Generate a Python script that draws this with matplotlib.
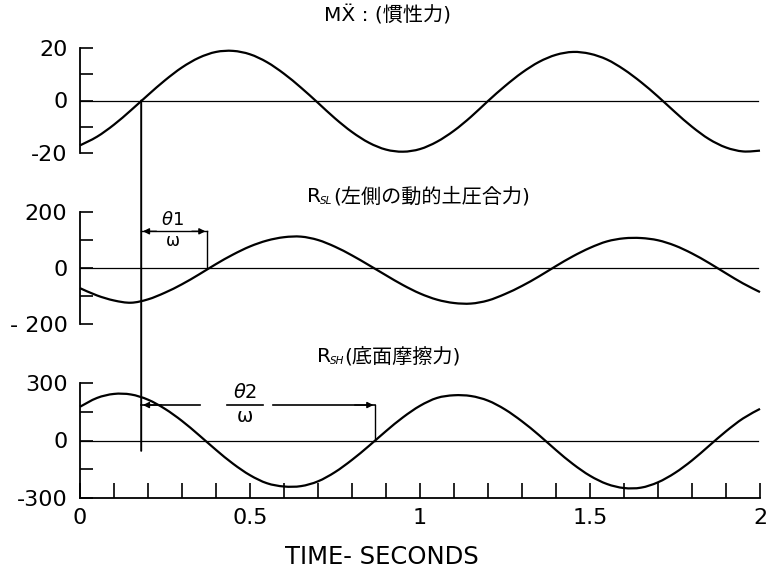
import matplotlib
matplotlib.use("Agg")
import matplotlib.pyplot as plt
from matplotlib.patches import ConnectionPatch, PathPatch
from matplotlib.path import Path
from matplotlib.ticker import MultipleLocator

plt.rcParams['font.family'] = ['DejaVu Sans', 'Noto Sans CJK JP']

# sample times (s)
time_s = [0.00, 0.05, 0.10, 0.15, 0.20, 0.25, 0.30, 0.35, 0.40, 0.45,
          0.50, 0.55, 0.60, 0.65, 0.70, 0.75, 0.80, 0.85, 0.90, 0.95,
          1.00, 1.05, 1.10, 1.15, 1.20, 1.25, 1.30, 1.35, 1.40, 1.45,
          1.50, 1.55, 1.60, 1.65, 1.70, 1.75, 1.80, 1.85, 1.90, 1.95, 2.00]

# inertia force M*x''
inertia = [-17.1, -13.8, -9.2, -3.7, 2.1, 7.7, 12.6, 16.3, 18.5, 18.9,
           17.6, 14.6, 10.2, 4.9, -0.9, -6.8, -12.0, -16.1, -18.7, -19.5,
           -18.5, -15.7, -11.5, -6.2, -0.2, 5.5, 10.6, 14.7, 17.4, 18.5,
           17.8, 15.6, 11.8, 7.0, 1.5, -4.4, -10.0, -14.7, -17.9, -19.4, -19.1]

# resultant dynamic earth pressure on the left side R_SL
r_sl = [-72, -98, -116, -124, -112, -88, -58, -23, 14, 48,
        77, 98, 110, 112, 100, 76, 45, 10, -26, -61,
        -91, -113, -125, -127, -116, -93, -64, -30, 7, 42,
        72, 95, 106, 107, 99, 80, 52, 18, -19, -55, -86]

# base friction force R_SH
r_sh = [176, 222, 243, 240, 213, 165, 102, 28, -49, -121,
        -181, -223, -240, -238, -213, -165, -101, -28, 49, 121,
        181, 222, 236, 232, 208, 162, 100, 28, -50, -123,
        -184, -227, -248, -246, -218, -169, -104, -28, 48, 115, 165]

y_limits = [20, 200, 300]
y_tick_labels = [["-20", "0", "20"], ["- 200", "0", "200"], ["-300", "0", "300"]]
x_ticks = [0, 0.5, 1, 1.5, 2]
x_tick_labels = ["0", "0.5", "1", "1.5", "2"]

# phase-lag markers (s) and heights of their dimension lines
t_ref = 0.18
t_theta1 = 0.374
t_theta2 = 0.868
h_theta1 = 131
h_theta2 = 185
ref_bottom = -54

W, H = 768, 575
fig = plt.figure(figsize=(W / 100, H / 100), dpi=100)


def frac_box(top_px, bot_px):
    left = 80 / W
    width = (760 - 80) / W
    return [left, 1 - bot_px / H, width, (bot_px - top_px) / H]


def smooth_curve(ax, xs, ys, **kw):
    """Draw a Catmull-Rom style cubic curve through the sampled points."""
    n = len(xs)
    pts = list(zip(xs, ys))
    verts = [pts[0]]
    codes = [Path.MOVETO]
    for i in range(n - 1):
        p0 = pts[max(i - 1, 0)]
        p1 = pts[i]
        p2 = pts[i + 1]
        p3 = pts[min(i + 2, n - 1)]
        c1 = (p1[0] + (p2[0] - p0[0]) / 6, p1[1] + (p2[1] - p0[1]) / 6)
        c2 = (p2[0] - (p3[0] - p1[0]) / 6, p2[1] - (p3[1] - p1[1]) / 6)
        verts += [c1, c2, p2]
        codes += [Path.CURVE4] * 3
    patch = PathPatch(Path(verts, codes), fill=False, transform=ax.transData,
                      clip_on=False, **kw)
    ax.add_patch(patch)


ax1 = fig.add_axes(frac_box(48, 153))
ax2 = fig.add_axes(frac_box(212, 324))
ax3 = fig.add_axes(frac_box(383, 498))
axes = [ax1, ax2, ax3]

series = [inertia, r_sl, r_sh]
for ax, vals, lim, labels in zip(axes, series, y_limits, y_tick_labels):
    ax.set_xlim(0, 2)
    ax.set_ylim(-lim, lim)
    smooth_curve(ax, time_s, vals, edgecolor='black', lw=1.6, zorder=3)
    ax.axhline(0, xmin=0, xmax=0.997, color='black', lw=0.9, zorder=2)
    for s in ['top', 'right', 'bottom']:
        ax.spines[s].set_visible(False)
    ax.spines['left'].set_linewidth(1.3)
    ax.set_yticks([-lim, 0, lim])
    ax.set_yticklabels(labels)
    ax.yaxis.set_minor_locator(MultipleLocator(lim / 2))
    ax.tick_params(axis='y', which='both', direction='in', length=9,
                   width=1.2, labelsize=16, pad=9)
    ax.patch.set_visible(False)

for ax in [ax1, ax2]:
    ax.set_xticks([])
    ax.tick_params(axis='x', which='both', length=0)

ax3.spines['bottom'].set_visible(True)
ax3.spines['bottom'].set_linewidth(1.3)
ax3.set_xticks(x_ticks)
ax3.set_xticklabels(x_tick_labels)
ax3.xaxis.set_minor_locator(MultipleLocator(0.1))
ax3.tick_params(axis='x', which='both', direction='in', length=11,
                width=1.2, labelsize=16, pad=7)

# reference line through the zero crossing of the inertia force
con = ConnectionPatch(xyA=(t_ref, 0), coordsA=ax1.transData,
                      xyB=(t_ref, ref_bottom), coordsB=ax3.transData,
                      color='black', lw=1.4, zorder=4)
fig.add_artist(con)

arr = dict(arrowstyle='-|>', color='black', lw=1.0, mutation_scale=9,
           shrinkA=0, shrinkB=0)

# theta1 / omega dimension
ax2.plot([t_theta1, t_theta1], [0, h_theta1], color='black', lw=1.0)
ax2.plot([t_ref, t_theta1], [h_theta1, h_theta1], color='black', lw=1.0)
ax2.annotate('', xy=(t_ref + 0.005, h_theta1), xytext=(t_ref + 0.045, h_theta1),
             arrowprops=arr)
ax2.annotate('', xy=(t_theta1 - 0.005, h_theta1), xytext=(t_theta1 - 0.045, h_theta1),
             arrowprops=arr)
ax2.annotate(r'$\theta$1', xy=(0.272, h_theta1), xytext=(0, 8),
             textcoords='offset points', ha='center', va='center', fontsize=13)
ax2.annotate('ω', xy=(0.272, h_theta1), xytext=(0, -7),
             textcoords='offset points', ha='center', va='center', fontsize=12)

# theta2 / omega dimension
ax3.plot([t_theta2, t_theta2], [0, h_theta2], color='black', lw=1.0)
ax3.plot([t_ref, 0.353], [h_theta2, h_theta2], color='black', lw=1.2)
ax3.plot([0.568, t_theta2], [h_theta2, h_theta2], color='black', lw=1.2)
ax3.plot([0.432, 0.538], [h_theta2, h_theta2], color='black', lw=1.2)
ax3.annotate('', xy=(t_ref + 0.005, h_theta2), xytext=(t_ref + 0.06, h_theta2),
             arrowprops=arr)
ax3.annotate('', xy=(t_theta2 - 0.005, h_theta2), xytext=(t_theta2 - 0.06, h_theta2),
             arrowprops=arr)
ax3.annotate(r'$\theta$2', xy=(0.485, h_theta2), xytext=(0, 9),
             textcoords='offset points', ha='center', va='center', fontsize=14)
ax3.annotate('ω', xy=(0.485, h_theta2), xytext=(0, -8),
             textcoords='offset points', ha='center', va='center', fontsize=14)

# panel titles
fig.text(387 / W, 1 - 15 / H, 'MẌ : (慣性力)', ha='center', va='center',
         fontsize=14.5)

fig.text(307 / W, 1 - 197 / H, 'R', ha='left', va='center', fontsize=14.5)
fig.text(320 / W, 1 - 201 / H, 'SL', ha='left', va='center', fontsize=7.5,
         style='italic')
fig.text(333 / W, 1 - 197 / H, '(左側の動的土圧合力)', ha='left', va='center',
         fontsize=14.5)

fig.text(317 / W, 1 - 357 / H, 'R', ha='left', va='center', fontsize=14.5)
fig.text(330 / W, 1 - 361 / H, 'SH', ha='left', va='center', fontsize=7.5,
         style='italic')
fig.text(344 / W, 1 - 357 / H, '(底面摩擦力)', ha='left', va='center',
         fontsize=14.5)

fig.text(382 / W, 1 - 557 / H, 'TIME- SECONDS', ha='center', va='center',
         fontsize=17.5)

fig.savefig('out.png', dpi=100)
